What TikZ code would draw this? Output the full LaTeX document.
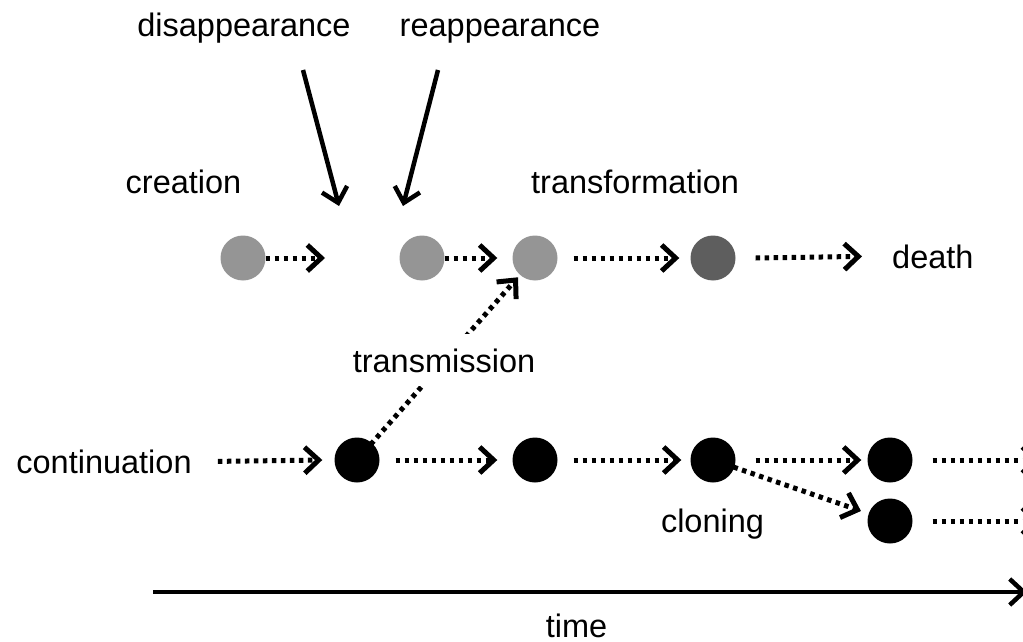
\documentclass[tikz,border=0pt]{standalone}
\usepackage{fontspec}
\setmainfont{Liberation Sans}
\usetikzlibrary{arrows.meta}
\definecolor{lightg}{HTML}{959595}
\definecolor{darkg}{HTML}{5E5E5E}
\begin{document}
\begin{tikzpicture}[x=1pt,y=-1pt,
  lbl/.style={font=\fontsize{32.5}{38}\selectfont, inner sep=0pt, anchor=base},
  ball/.style={circle, minimum size=45pt, inner sep=0pt, draw=none},
  lgt/.style={ball, fill=lightg},
  drk/.style={ball, fill=darkg},
  blk/.style={ball, fill=black},
  flow/.style={line width=5pt, dash pattern=on 4.5pt off 4.5pt,
    -{Straight Barb[length=14pt,width=26pt,line width=5pt]}},
  solidarr/.style={line width=4.5pt,
    -{Straight Barb[length=14pt,width=26pt,line width=4.5pt]}}]
\useasboundingbox (0,0) rectangle (1023,642);

% labels
\node[lbl] (disapp) at (244,37) {disappearance};
\node[lbl] (reapp) at (500,37) {reappearance};
\node[lbl] (creation) at (183.5,193) {creation};
\node[lbl, anchor=base west] (transf) at (531,193) {transformation};
\node[lbl, anchor=base west] (death) at (892,268) {death};
\node[lbl] (cont) at (104,473) {continuation};
\node[lbl] (clon) at (712.5,532) {cloning};
\node[lbl] (time) at (576.5,637) {time};

% balls
\node[lgt] (g1) at (243,258) {};
\node[lgt] (g2) at (422,258) {};
\node[lgt] (g3) at (535,258) {};
\node[drk] (g4) at (713,258) {};
\node[blk] (b1) at (357,460) {};
\node[blk] (b2) at (535,460) {};
\node[blk] (b3) at (713,460) {};
\node[blk] (b4) at (890,460) {};
\node[blk] (b5) at (890,521) {};

% free ends
\coordinate (d0) at (303,70);
\coordinate (d1) at (339,206);
\coordinate (r0) at (438,70);
\coordinate (r1) at (403,206);
\coordinate (c1) at (325,258);
\coordinate (t0) at (153,592);
\coordinate (t1) at (1027,592);
\coordinate (o1) at (1040,460);
\coordinate (o2) at (1040,521);

% solid arrows
\draw[solidarr] (d0) -- (d1);
\draw[solidarr] (r0) -- (r1);
\draw[solidarr] (t0) -- (t1);

% row 1
\draw[flow] (g1.east) -- (c1);
\draw[flow] (g2.east) -- ([xshift=-15pt]g3.west);
\draw[flow] ([xshift=16pt]g3.east) -- ([xshift=-11pt]g4.west);
\draw[flow] ([xshift=20pt]g4.east) -- ([xshift=-30pt]death.west);

% row 2
\draw[flow] ([xshift=26pt]cont.east) -- ([xshift=-12pt]b1.west);
\draw[flow] ([xshift=16pt]b1.east) -- ([xshift=-15pt]b2.west);
\draw[flow] ([xshift=16pt]b2.east) -- ([xshift=-9pt]b3.west);
\draw[flow] ([xshift=20pt]b3.east) -- ([xshift=-6pt]b4.west);
\draw[flow] ([xshift=20pt]b4.east) -- (o1);
\draw[flow] ([xshift=20pt]b5.east) -- (o2);
\draw[flow, shorten <=-1pt, shorten >=8pt] (b3) -- (b5);

% transmission
\draw[flow, shorten <=-2pt, shorten >=3pt] (b1) -- (g3);
\node[lbl, fill=white, inner xsep=2pt, inner ysep=14pt] (trans) at (444,372) {transmission};
\end{tikzpicture}
\end{document}
